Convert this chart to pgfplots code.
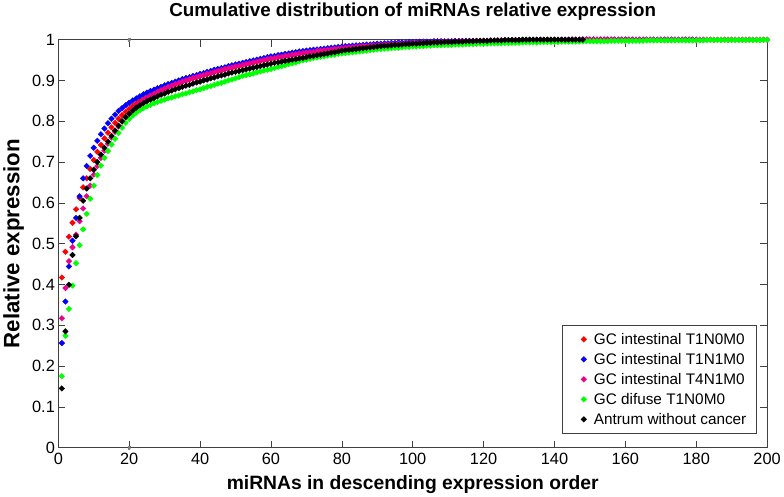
\documentclass[border=0pt]{standalone}
\usepackage{fontspec}
\setmainfont{Liberation Sans}
\usepackage{pgfplots}
\pgfplotsset{compat=1.18}
\begin{document}
\begin{tikzpicture}
\begin{axis}[
    scale only axis,
    width=714bp, height=411bp,
    xmin=0, xmax=200, ymin=0, ymax=1,
    xtick={0,20,40,60,80,100,120,140,160,180,200},
    ytick={0,0.1,0.2,0.3,0.4,0.5,0.6,0.7,0.8,0.9,1},
    tick align=inside,
    major tick length=7bp,
    axis line style={black!75, line width=0.6pt},
    every tick/.style={black!75, line width=0.6pt},
    /pgf/number format/assume math mode=true,
    ticklabel style={font=\fontsize{16.5}{19}\selectfont},
    xticklabel style={yshift=-2pt},
    title={\textbf{Cumulative distribution of miRNAs relative expression}},
    title style={font=\fontsize{19}{22}\selectfont, at={(axis description cs:0.5,1.053)}, anchor=center},
    xlabel={\textbf{miRNAs in descending expression order}},
    ylabel={\textbf{Relative expression}},
    xlabel style={font=\fontsize{19.5}{22}\selectfont, at={(axis description cs:0.5,-0.09)}, anchor=center},
    ylabel style={font=\fontsize{22.5}{25}\selectfont, at={(axis description cs:-0.063,0.5)}, anchor=center},
    clip=false,
    legend style={at={(axis description cs:0.985,0.034)}, anchor=south east,
        draw=black!75, font=\fontsize{15.5}{18}\selectfont,
        inner xsep=8pt, inner ysep=6pt, row sep=3.5pt},
    legend cell align=left,
    legend image code/.code={\path (-14pt,0pt) (8pt,0pt); \draw[#1] plot coordinates {(0pt,0pt)};},
    every axis plot/.append style={only marks, mark=square*, mark size=2pt, mark options={rotate=45}},
]

\addplot[gray, dash pattern=on 8pt off 5pt, no marks, forget plot, line width=0.6pt] coordinates {(20,0) (20,1)};

% GC intestinal T1N0M0
\addplot[red] coordinates {
(1,0.417) (2,0.480) (3,0.517) (4,0.551) (5,0.584) (6,0.612) (7,0.638) (8,0.660) (9,0.683) (10,0.705)
(11,0.725) (12,0.742) (13,0.758) (14,0.772) (15,0.785) (16,0.796) (17,0.806) (18,0.815) (19,0.823) (20,0.830)
(21,0.837) (22,0.843) (23,0.849) (24,0.854) (25,0.859) (26,0.863) (27,0.867) (28,0.871) (29,0.875) (30,0.879)
(31,0.883) (32,0.886) (33,0.890) (34,0.893) (35,0.896) (36,0.899) (37,0.902) (38,0.905) (39,0.907) (40,0.910)
(41,0.912) (42,0.915) (43,0.917) (44,0.920) (45,0.922) (46,0.924) (47,0.927) (48,0.929) (49,0.931) (50,0.933)
(51,0.935) (52,0.937) (53,0.939) (54,0.941) (55,0.943) (56,0.945) (57,0.947) (58,0.949) (59,0.951) (60,0.953)
(61,0.954) (62,0.956) (63,0.957) (64,0.959) (65,0.960) (66,0.962) (67,0.963) (68,0.965) (69,0.966) (70,0.967)
(71,0.968) (72,0.969) (73,0.971) (74,0.972) (75,0.973) (76,0.974) (77,0.975) (78,0.976) (79,0.977) (80,0.978)
(81,0.979) (82,0.980) (83,0.980) (84,0.981) (85,0.982) (86,0.983) (87,0.983) (88,0.984) (89,0.985) (90,0.985)
(91,0.986) (92,0.987) (93,0.987) (94,0.988) (95,0.988) (96,0.989) (97,0.989) (98,0.990) (99,0.990) (100,0.991)
(101,0.991) (102,0.991) (103,0.992) (104,0.992) (105,0.992) (106,0.993) (107,0.993) (108,0.993) (109,0.994) (110,0.994)
(111,0.994) (112,0.994) (113,0.995) (114,0.995) (115,0.995) (116,0.995) (117,0.996) (118,0.996) (119,0.996) (120,0.996)
(121,0.996) (122,0.996) (123,0.997) (124,0.997) (125,0.997) (126,0.997) (127,0.997) (128,0.998) (129,0.998) (130,0.998)
(131,0.998) (132,0.998) (133,0.998) (134,0.998) (135,0.999) (136,0.999) (137,0.999) (138,0.999) (139,0.999) (140,0.999)
(141,0.999) (142,0.999) (143,0.999) (144,0.999) (145,1.000) (146,1.000) (147,1.000) (148,1.000) (149,1.000) (150,1.000)
(151,1.000) (152,1.000) (153,1.000) (154,1.000) (155,1.000) (156,1.000) (157,1.000) (158,1.000) (159,1.000) (160,1.000)
};
\addlegendentry{GC intestinal T1N0M0}

% GC intestinal T1N1M0
\addplot[blue] coordinates {
(1,0.256) (2,0.358) (3,0.444) (4,0.507) (5,0.563) (6,0.616) (7,0.660) (8,0.690) (9,0.715) (10,0.735)
(11,0.752) (12,0.768) (13,0.782) (14,0.795) (15,0.806) (16,0.816) (17,0.825) (18,0.832) (19,0.839) (20,0.845)
(21,0.851) (22,0.856) (23,0.861) (24,0.866) (25,0.870) (26,0.874) (27,0.877) (28,0.881) (29,0.884) (30,0.888)
(31,0.891) (32,0.894) (33,0.897) (34,0.900) (35,0.903) (36,0.906) (37,0.908) (38,0.911) (39,0.913) (40,0.916)
(41,0.918) (42,0.921) (43,0.923) (44,0.926) (45,0.928) (46,0.930) (47,0.932) (48,0.935) (49,0.937) (50,0.939)
(51,0.941) (52,0.943) (53,0.945) (54,0.947) (55,0.949) (56,0.951) (57,0.953) (58,0.955) (59,0.957) (60,0.959)
(61,0.960) (62,0.962) (63,0.963) (64,0.965) (65,0.966) (66,0.968) (67,0.969) (68,0.971) (69,0.972) (70,0.973)
(71,0.974) (72,0.975) (73,0.976) (74,0.977) (75,0.978) (76,0.979) (77,0.980) (78,0.981) (79,0.982) (80,0.983)
(81,0.984) (82,0.984) (83,0.985) (84,0.986) (85,0.986) (86,0.987) (87,0.988) (88,0.988) (89,0.989) (90,0.990)
(91,0.990) (92,0.991) (93,0.991) (94,0.992) (95,0.992) (96,0.993) (97,0.993) (98,0.993) (99,0.994) (100,0.994)
(101,0.994) (102,0.995) (103,0.995) (104,0.995) (105,0.995) (106,0.996) (107,0.996) (108,0.996) (109,0.996) (110,0.996)
(111,0.996) (112,0.997) (113,0.997) (114,0.997) (115,0.997) (116,0.997) (117,0.997) (118,0.997) (119,0.997) (120,0.997)
(121,0.997) (122,0.997) (123,0.997) (124,0.997) (125,0.997) (126,0.998) (127,0.998) (128,0.998) (129,0.998) (130,0.998)
(131,0.998) (132,0.998) (133,0.998) (134,0.998) (135,0.999) (136,0.999) (137,0.999) (138,0.999) (139,0.999) (140,0.999)
(141,0.999) (142,0.999) (143,0.999) (144,0.999) (145,0.999) (146,0.999) (147,1.000) (148,1.000) (149,1.000) (150,1.000)
(151,1.000) (152,1.000) (153,1.000) (154,1.000) (155,1.000) (156,1.000) (157,1.000) (158,1.000) (159,1.000) (160,1.000)
(161,1.000) (162,1.000) (163,1.000) (164,1.000) (165,1.000) (166,1.000) (167,1.000) (168,1.000) (169,1.000) (170,1.000)
(171,1.000) (172,1.000) (173,1.000) (174,1.000) (175,1.000) (176,1.000) (177,1.000) (178,1.000) (179,1.000) (180,1.000)
};
\addlegendentry{GC intestinal T1N1M0}

% GC intestinal T4N1M0
\addplot[magenta] coordinates {
(1,0.317) (2,0.391) (3,0.457) (4,0.491) (5,0.522) (6,0.555) (7,0.586) (8,0.616) (9,0.642) (10,0.669)
(11,0.690) (12,0.710) (13,0.728) (14,0.745) (15,0.760) (16,0.774) (17,0.787) (18,0.799) (19,0.810) (20,0.820)
(21,0.829) (22,0.837) (23,0.844) (24,0.851) (25,0.857) (26,0.862) (27,0.867) (28,0.872) (29,0.876) (30,0.880)
(31,0.884) (32,0.887) (33,0.891) (34,0.894) (35,0.897) (36,0.900) (37,0.903) (38,0.906) (39,0.908) (40,0.911)
(41,0.913) (42,0.916) (43,0.918) (44,0.921) (45,0.923) (46,0.925) (47,0.928) (48,0.930) (49,0.932) (50,0.934)
(51,0.936) (52,0.938) (53,0.940) (54,0.942) (55,0.944) (56,0.946) (57,0.948) (58,0.950) (59,0.952) (60,0.954)
(61,0.955) (62,0.957) (63,0.958) (64,0.960) (65,0.961) (66,0.963) (67,0.964) (68,0.966) (69,0.967) (70,0.968)
(71,0.969) (72,0.970) (73,0.972) (74,0.973) (75,0.974) (76,0.975) (77,0.976) (78,0.977) (79,0.978) (80,0.979)
(81,0.980) (82,0.981) (83,0.981) (84,0.982) (85,0.983) (86,0.984) (87,0.984) (88,0.985) (89,0.986) (90,0.986)
(91,0.987) (92,0.988) (93,0.988) (94,0.989) (95,0.989) (96,0.990) (97,0.990) (98,0.991) (99,0.991) (100,0.992)
(101,0.992) (102,0.992) (103,0.993) (104,0.993) (105,0.993) (106,0.994) (107,0.994) (108,0.994) (109,0.995) (110,0.995)
(111,0.995) (112,0.995) (113,0.996) (114,0.996) (115,0.996) (116,0.996) (117,0.996) (118,0.997) (119,0.997) (120,0.997)
(121,0.997) (122,0.997) (123,0.997) (124,0.998) (125,0.998) (126,0.998) (127,0.998) (128,0.998) (129,0.998) (130,0.998)
(131,0.998) (132,0.999) (133,0.999) (134,0.999) (135,0.999) (136,0.999) (137,0.999) (138,0.999) (139,0.999) (140,0.999)
(141,0.999) (142,0.999) (143,0.999) (144,0.999) (145,1.000) (146,1.000) (147,1.000) (148,1.000) (149,1.000) (150,1.000)
(151,1.000) (152,1.000) (153,1.000) (154,1.000) (155,1.000) (156,1.000) (157,1.000) (158,1.000) (159,1.000) (160,1.000)
(161,1.000) (162,1.000) (163,1.000) (164,1.000) (165,1.000) (166,1.000) (167,1.000) (168,1.000) (169,1.000) (170,1.000)
(171,1.000) (172,1.000) (173,1.000) (174,1.000) (175,1.000) (176,1.000) (177,1.000) (178,1.000) (179,1.000) (180,1.000)
(181,1.000) (182,1.000) (183,1.000) (184,1.000) (185,1.000) (186,1.000) (187,1.000) (188,1.000) (189,1.000) (190,1.000)
(191,1.000) (192,1.000) (193,1.000) (194,1.000) (195,1.000) (196,1.000) (197,1.000) (198,1.000) (199,1.000) (200,1.000)
};
\addlegendentry{GC intestinal T4N1M0}

% GC difuse T1N0M0
\addplot[green] coordinates {
(1,0.175) (2,0.274) (3,0.340) (4,0.397) (5,0.452) (6,0.496) (7,0.535) (8,0.573) (9,0.610) (10,0.642)
(11,0.668) (12,0.691) (13,0.710) (14,0.727) (15,0.743) (16,0.757) (17,0.771) (18,0.784) (19,0.796) (20,0.806)
(21,0.814) (22,0.821) (23,0.827) (24,0.832) (25,0.836) (26,0.840) (27,0.844) (28,0.847) (29,0.850) (30,0.853)
(31,0.856) (32,0.858) (33,0.861) (34,0.863) (35,0.866) (36,0.868) (37,0.871) (38,0.873) (39,0.876) (40,0.878)
(41,0.881) (42,0.884) (43,0.886) (44,0.889) (45,0.892) (46,0.894) (47,0.897) (48,0.900) (49,0.902) (50,0.905)
(51,0.908) (52,0.911) (53,0.913) (54,0.915) (55,0.917) (56,0.920) (57,0.922) (58,0.924) (59,0.926) (60,0.928)
(61,0.930) (62,0.933) (63,0.935) (64,0.937) (65,0.940) (66,0.942) (67,0.944) (68,0.947) (69,0.949) (70,0.951)
(71,0.953) (72,0.955) (73,0.956) (74,0.958) (75,0.959) (76,0.961) (77,0.962) (78,0.963) (79,0.965) (80,0.966)
(81,0.967) (82,0.968) (83,0.969) (84,0.970) (85,0.971) (86,0.972) (87,0.973) (88,0.974) (89,0.975) (90,0.976)
(91,0.977) (92,0.978) (93,0.978) (94,0.979) (95,0.980) (96,0.980) (97,0.981) (98,0.982) (99,0.982) (100,0.983)
(101,0.983) (102,0.984) (103,0.984) (104,0.985) (105,0.985) (106,0.986) (107,0.986) (108,0.986) (109,0.987) (110,0.987)
(111,0.987) (112,0.988) (113,0.988) (114,0.988) (115,0.989) (116,0.989) (117,0.989) (118,0.990) (119,0.990) (120,0.990)
(121,0.990) (122,0.991) (123,0.991) (124,0.991) (125,0.991) (126,0.992) (127,0.992) (128,0.992) (129,0.992) (130,0.992)
(131,0.993) (132,0.993) (133,0.993) (134,0.993) (135,0.993) (136,0.994) (137,0.994) (138,0.994) (139,0.994) (140,0.994)
(141,0.994) (142,0.995) (143,0.995) (144,0.995) (145,0.995) (146,0.995) (147,0.995) (148,0.996) (149,0.996) (150,0.996)
(151,0.996) (152,0.996) (153,0.996) (154,0.996) (155,0.996) (156,0.997) (157,0.997) (158,0.997) (159,0.997) (160,0.997)
(161,0.997) (162,0.997) (163,0.997) (164,0.997) (165,0.997) (166,0.998) (167,0.998) (168,0.998) (169,0.998) (170,0.998)
(171,0.998) (172,0.998) (173,0.998) (174,0.998) (175,0.998) (176,0.998) (177,0.998) (178,0.998) (179,0.998) (180,0.998)
(181,0.998) (182,0.998) (183,0.999) (184,0.999) (185,0.999) (186,0.999) (187,0.999) (188,0.999) (189,0.999) (190,0.999)
(191,0.999) (192,0.999) (193,0.999) (194,0.999) (195,0.999) (196,0.999) (197,0.999) (198,0.999) (199,0.999) (200,1.000)
};
\addlegendentry{GC difuse T1N0M0}

% Antrum without cancer
\addplot[black] coordinates {
(1,0.145) (2,0.285) (3,0.399) (4,0.472) (5,0.518) (6,0.563) (7,0.605) (8,0.635) (9,0.660) (10,0.681)
(11,0.700) (12,0.718) (13,0.735) (14,0.750) (15,0.764) (16,0.777) (17,0.789) (18,0.800) (19,0.810) (20,0.818)
(21,0.826) (22,0.833) (23,0.839) (24,0.844) (25,0.849) (26,0.853) (27,0.857) (28,0.861) (29,0.865) (30,0.868)
(31,0.872) (32,0.875) (33,0.878) (34,0.881) (35,0.884) (36,0.887) (37,0.889) (38,0.892) (39,0.895) (40,0.897)
(41,0.900) (42,0.902) (43,0.905) (44,0.907) (45,0.910) (46,0.912) (47,0.914) (48,0.917) (49,0.919) (50,0.921)
(51,0.923) (52,0.925) (53,0.927) (54,0.929) (55,0.931) (56,0.933) (57,0.935) (58,0.937) (59,0.939) (60,0.941)
(61,0.943) (62,0.944) (63,0.946) (64,0.948) (65,0.949) (66,0.951) (67,0.952) (68,0.954) (69,0.955) (70,0.957)
(71,0.959) (72,0.960) (73,0.962) (74,0.963) (75,0.965) (76,0.966) (77,0.968) (78,0.969) (79,0.971) (80,0.973)
(81,0.974) (82,0.975) (83,0.976) (84,0.977) (85,0.978) (86,0.979) (87,0.980) (88,0.981) (89,0.982) (90,0.983)
(91,0.984) (92,0.985) (93,0.985) (94,0.986) (95,0.987) (96,0.987) (97,0.988) (98,0.989) (99,0.989) (100,0.990)
(101,0.990) (102,0.991) (103,0.991) (104,0.992) (105,0.992) (106,0.993) (107,0.993) (108,0.993) (109,0.994) (110,0.994)
(111,0.994) (112,0.995) (113,0.995) (114,0.995) (115,0.996) (116,0.996) (117,0.996) (118,0.997) (119,0.997) (120,0.997)
(121,0.997) (122,0.998) (123,0.998) (124,0.998) (125,0.998) (126,0.999) (127,0.999) (128,0.999) (129,0.999) (130,0.999)
(131,1.000) (132,1.000) (133,1.000) (134,1.000) (135,1.000) (136,1.000) (137,1.000) (138,1.000) (139,1.000) (140,1.000)
(141,1.000) (142,1.000) (143,1.000) (144,1.000) (145,1.000) (146,1.000) (147,1.000) (148,1.000)
};
\addlegendentry{Antrum without cancer}

\end{axis}
\end{tikzpicture}
\end{document}
